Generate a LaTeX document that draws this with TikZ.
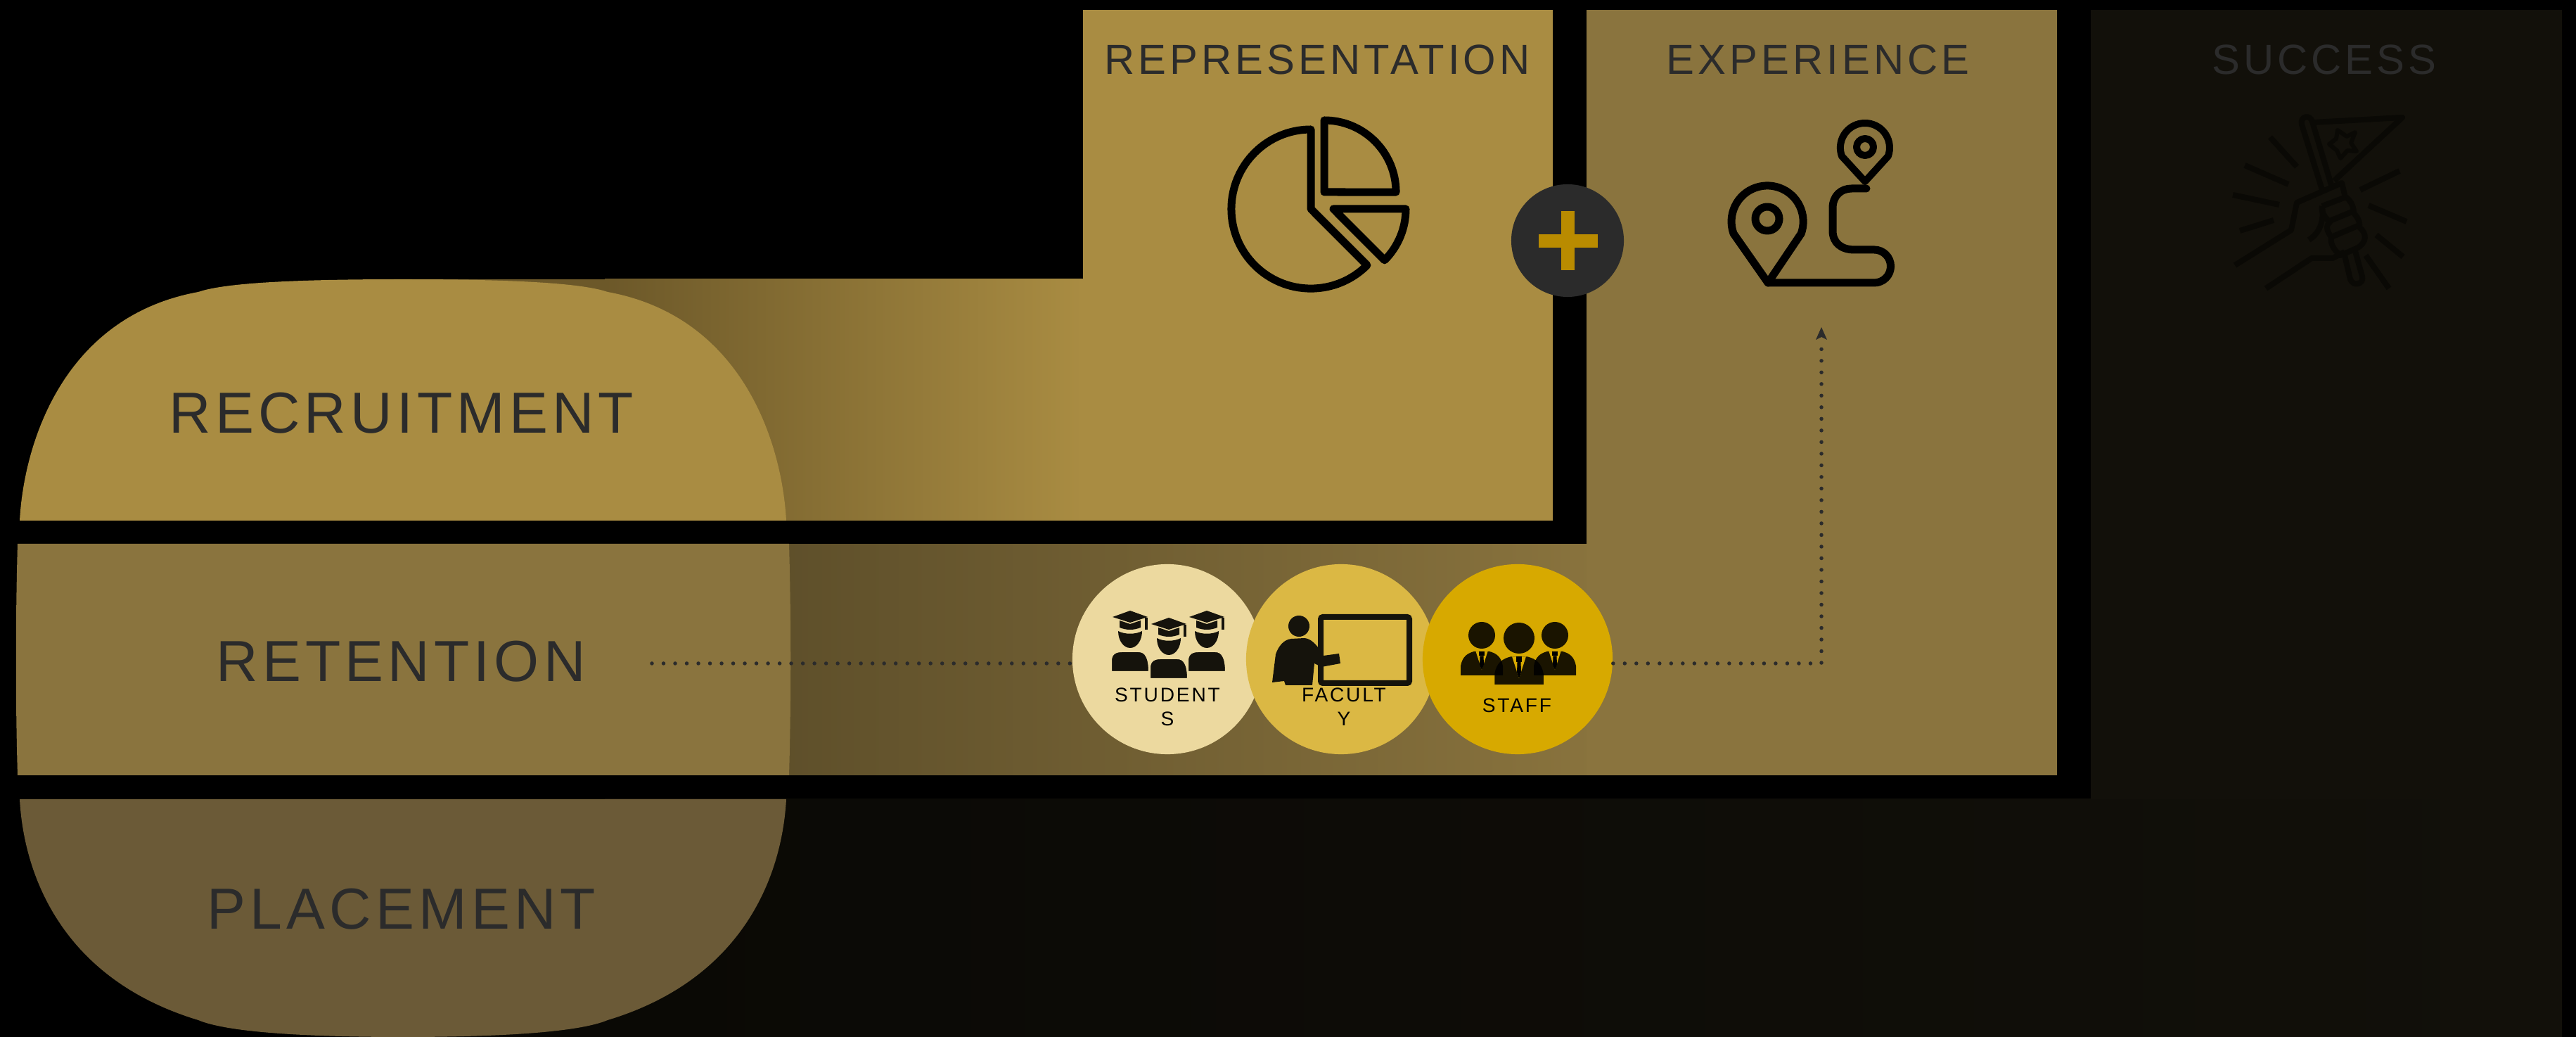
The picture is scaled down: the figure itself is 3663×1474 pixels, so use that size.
\documentclass[tikz,border=0pt]{standalone}
\usepackage{fontspec}
\usetikzlibrary{arrows.meta}
\setmainfont{Liberation Sans}
\newfontfamily\spacedbig[LetterSpace=7.5]{Liberation Sans}
\newfontfamily\spacedhead[LetterSpace=8.5]{Liberation Sans}
\newfontfamily\spacedsmall[LetterSpace=10]{Liberation Sans}
\definecolor{recruit}{HTML}{A98C42}
\definecolor{retain}{HTML}{8A743E}
\definecolor{place}{HTML}{6B5A37}
\definecolor{bandA}{HTML}{6C5829}
\definecolor{bandB}{HTML}{5E4F2A}
\definecolor{voidA}{HTML}{0A0905}
\definecolor{voidB}{HTML}{12100A}
\definecolor{ink}{HTML}{2B2B2B}
\definecolor{plusc}{HTML}{B98B00}
\definecolor{studc}{HTML}{ECD99F}
\definecolor{facc}{HTML}{DBB844}
\definecolor{staffc}{HTML}{D7A900}
\definecolor{iconk}{HTML}{15130C}
\tikzset{
  bigtext/.style={text=ink,inner sep=0pt,font=\spacedbig\fontsize{23.4}{28}\selectfont},
  headtext/.style={text=ink,inner sep=0pt,font=\spacedhead\fontsize{17}{20}\selectfont},
  smalltext/.style={text=black,inner sep=0pt,align=center,font=\spacedsmall\fontsize{8}{9.7}\selectfont},
  disc/.style={circle,minimum size=2.7cm,inner sep=0pt,draw=none},
  dotline/.style={draw=ink,line width=0.055cm,line cap=round,dash pattern=on 0pt off 0.165cm},
  iconline/.style={draw=black,line width=0.11cm,line join=round,line cap=round},
  darkline/.style={draw=voidA,line width=0.08cm,line join=round},
  pics/grad/.style={code={
    \fill[iconk,draw=#1,line width=0.02cm] (-27,78) -- (-27,62) .. controls (-27,52) and (-20,49) .. (-12,49) -- (12,49) .. controls (22,49) and (27,58) .. (27,78) -- cycle;
    \fill[iconk] (-17,20) .. controls (-17,34) and (-9,44) .. (0,44) .. controls (9,44) and (17,34) .. (17,20) .. controls (8,25) and (-8,25) .. (-17,20) -- cycle;
    \fill[iconk] (-15,5) -- (0,10) -- (15,5) -- (15,15) .. controls (5,19) and (-5,19) .. (-15,15) -- cycle;
    \fill[iconk] (-25,0) -- (0,-9) -- (25,0) -- (0,8) -- cycle;
    \fill[iconk] (21,1) rectangle (25,18);
  }},
  pics/suit/.style={code={
    \fill[black,fill opacity=.88] (0,0) circle[radius=#1*0.01cm];
    \fill[black,fill opacity=.88] (-#1*1.58,#1*3) -- (-#1*1.58,#1*2.3) .. controls (-#1*1.45,#1*1.6) and (-#1*1.1,#1*1.35) .. (-#1*.55,#1*1.2) -- (#1*.55,#1*1.2) .. controls (#1*1.1,#1*1.35) and (#1*1.45,#1*1.6) .. (#1*1.58,#1*2.3) -- (#1*1.58,#1*3) -- cycle;
    \fill[staffc] (-#1*.45,#1*1.2) -- (0,#1*2.6) -- (#1*.45,#1*1.2) -- cycle;
    \fill[black] (-4,#1*1.2) rectangle (4,#1*1.55);
    \fill[black] (-2.5,#1*1.55) -- (2.5,#1*1.55) -- (3,#1*2.2) -- (0,#1*2.6) -- (-3,#1*2.2) -- cycle;
  }}
}
\begin{document}
\begin{tikzpicture}[x=0.01cm,y=0.01cm,yscale=-1]
\useasboundingbox (0,0) rectangle (3663,1474);
\fill[black] (0,0) rectangle (3663,1474);

% bands and panels
\fill[voidA] (600,1136) rectangle (870,1474);
\shade[left color=voidA,right color=voidB] (860,1136) rectangle (3643,1474);
\fill[voidB] (2973,14) rectangle (3643,1136);
\fill[recruit] (1540,14) rectangle (2208,740);
\fill[bandA] (600,397) rectangle (870,740);
\shade[left color=bandA,right color=recruit] (860,397) rectangle (1540,740);
\shade[left color=bandB,right color=retain] (1100,774) rectangle (2300,1102);
\fill[retain] (2256,14) rectangle (2925,1102);
\fill[retain] (2300,774) rectangle (2925,1102);

% rounded left shapes
\fill[recruit] (28,740) .. controls (34,630) and (90,450) .. (282,415) .. controls (320,402) and (420,397) .. (573,397)
  .. controls (726,397) and (826,402) .. (864,415) .. controls (1056,450) and (1112,630) .. (1118,740) -- cycle;
\fill[retain] (25,773) .. controls (22,880) and (22,1000) .. (25,1102) -- (1122,1102) .. controls (1125,1000) and (1125,880) .. (1122,773) -- cycle;
\fill[place] (28,1136) .. controls (34,1246) and (90,1392) .. (282,1450) .. controls (320,1466) and (420,1474) .. (573,1474)
  .. controls (726,1474) and (826,1466) .. (864,1450) .. controls (1056,1392) and (1112,1246) .. (1118,1136) -- cycle;

% titles
\node[bigtext] (recruitment) at (571,587) {RECRUITMENT};
\node[bigtext] (retention) at (570,940) {RETENTION};
\node[bigtext] (placement) at (571,1292) {PLACEMENT};
\node[headtext] (representation) at (1873,85) {REPRESENTATION};
\node[headtext] (experience) at (2585,85) {EXPERIENCE};
\node[headtext] (success) at (3305,85) {SUCCESS};

% plus
\node[circle,fill=ink,minimum size=1.6cm,inner sep=0pt] (plus) at (2229,342) {};
\fill[plusc] (2188,333) rectangle (2272,352);
\fill[plusc] (2220,300) rectangle (2239,384);

% pie icon
\draw[iconline] (1864,297) -- (1864,184) arc[start angle=-90,end angle=-315,radius=1.13cm] -- cycle;
\draw[iconline] (1883,273) -- (1883,171) arc[start angle=-90,end angle=0,radius=1.02cm] -- cycle;
\draw[iconline] (1896,297) -- (1999,297) arc[start angle=0,end angle=45,radius=1.03cm] -- cycle;

% route icon
\draw[iconline] (2514,402) -- (2465,332) arc[start angle=160.5,end angle=379.5,radius=0.51cm] -- cycle;
\draw[iconline] (2513,311) circle[radius=0.17cm];
\draw[iconline,line width=0.1cm] (2652,258) -- (2619,222) arc[start angle=160,end angle=380,radius=0.35cm] -- cycle;
\draw[iconline,line width=0.1cm] (2652,209) circle[radius=0.12cm];
\draw[iconline] (2514,402) -- (2665,402) arc[start angle=90,end angle=-90,radius=0.235cm] -- (2637,355)
  .. controls (2618,355) and (2606,345) .. (2606,328) -- (2606,296) .. controls (2606,278) and (2618,268) .. (2633,268) -- (2654,268);

% success icon
\draw[darkline] (3302,270) -- (3273,177) .. controls (3270,165) and (3285,162) .. (3288,173) -- (3315,263);
\draw[darkline] (3290,174) -- (3416,167) -- (3319,257);
\draw[darkline,line width=0.06cm] (3324,185) -- (3337,194) -- (3349,188) -- (3343,203) -- (3351,215) -- (3338,214) -- (3328,225) -- (3323,214) -- (3312,205) -- (3322,197) -- cycle;
\draw[darkline] (3178,377) -- (3258,327) -- (3266,288) -- (3330,260) -- (3334,277);
\draw[darkline] (3222,410) -- (3287,367) -- (3317,367) -- (3334,358);
\draw[darkline] (3302,293) -- (3336,280) .. controls (3345,288) and (3347,296) .. (3347,303) .. controls (3355,312) and (3356,318) .. (3355,323) .. controls (3366,332) and (3366,345) .. (3351,353) -- (3328,363) .. controls (3318,355) and (3313,345) .. (3315,337) .. controls (3308,328) and (3307,320) .. (3313,316) .. controls (3305,308) and (3300,300) .. (3302,293);
\draw[darkline] (3308,316) -- (3347,300);
\draw[darkline] (3315,337) -- (3355,320);
\draw[darkline] (3302,293) .. controls (3305,315) and (3298,332) .. (3283,341);
\draw[darkline] (3334,363) -- (3342,397) .. controls (3346,408) and (3362,404) .. (3359,393) -- (3349,357);
\draw[darkline] (3228,195) -- (3266,237);
\draw[darkline] (3192,235) -- (3254,262);
\draw[darkline] (3175,277) -- (3241,291);
\draw[darkline] (3185,328) -- (3233,313);
\draw[darkline] (3412,243) -- (3356,270);
\draw[darkline] (3368,292) -- (3422,315);
\draw[darkline] (3379,334) -- (3417,365);
\draw[darkline] (3364,363) -- (3397,410);

% circles
\node[disc,fill=studc] (students) at (1660,937) {};
\node[disc,fill=facc] (faculty) at (1907,937) {};
\node[disc,fill=staffc] (staff) at (2158,937) {};

% students icon
\pic[yscale=-1] at (1607,877) {grad=studc};
\pic[yscale=-1] at (1716,877) {grad=studc};
\pic[yscale=-1] at (1662,887) {grad=studc};
\node[smalltext] (studentslabel) at (1660,1005) {STUDENT\\S};

% faculty icon
\fill[iconk] (1847,890) circle[radius=0.15cm];
\fill[iconk] (1809,970) -- (1814,930) .. controls (1818,918) and (1826,909) .. (1836,908) -- (1855,907) .. controls (1864,908) and (1872,915) .. (1882,932) -- (1904,929) -- (1906,943) -- (1879,948) -- (1869,943) -- (1866,974) -- (1828,974) -- (1826,968) -- cycle;
\draw[iconk,line width=0.08cm,rounded corners=0.03cm] (1878,877) rectangle (2004,971);
\node[smalltext] (facultylabel) at (1911,1005) {FACULT\\Y};

% staff icon
\pic[yscale=-1] at (2107,903) {suit=19};
\pic[yscale=-1] at (2211,903) {suit=19};
\pic[yscale=-1] at (2160,907) {suit=22};
\node[smalltext] (stafflabel) at (2157,1003) {STAFF};

% connectors
\coordinate (dotstart) at (927,943);
\coordinate (arrowend) at (2590,465);
\draw[dotline] (dotstart) -- (dotstart -| students.west);
\draw[dotline] (staff.east |- dotstart) -- (arrowend |- dotstart) -- ([yshift=0.22cm]arrowend);
\fill[ink] (arrowend) -- ([xshift=-0.08cm,yshift=0.18cm]arrowend) -- ([yshift=0.14cm]arrowend) -- ([xshift=0.08cm,yshift=0.18cm]arrowend) -- cycle;
\end{tikzpicture}
\end{document}
